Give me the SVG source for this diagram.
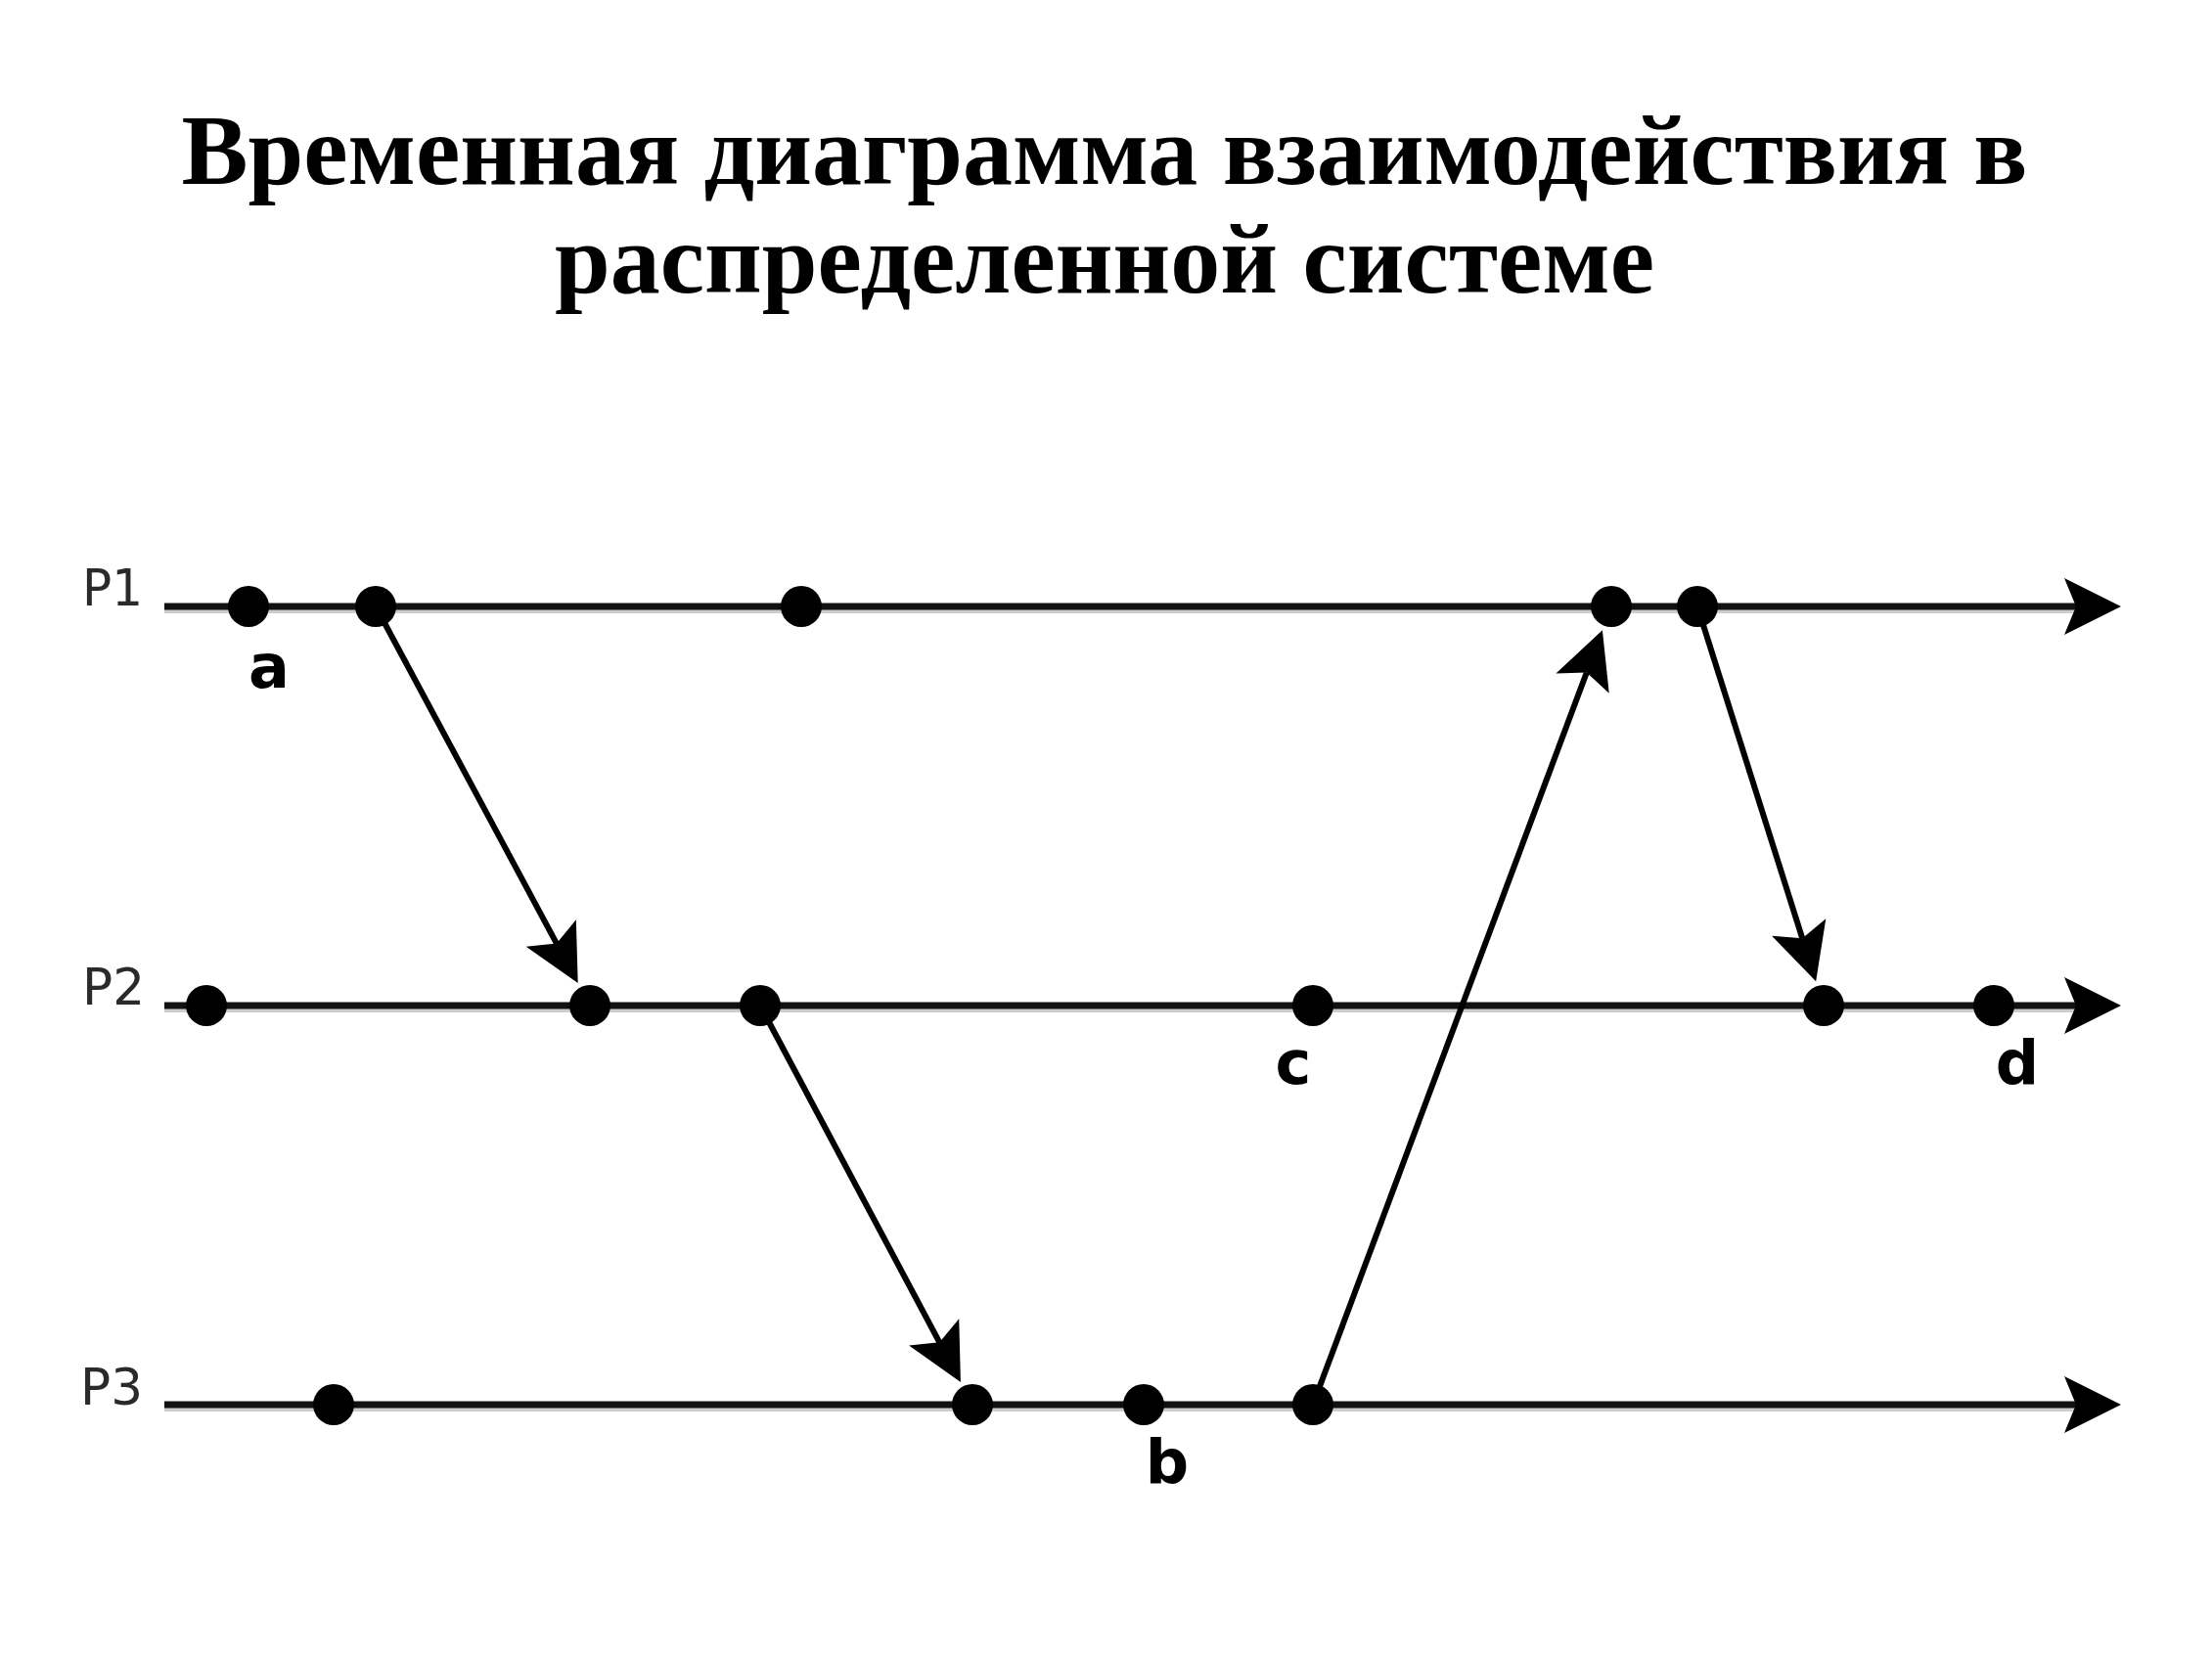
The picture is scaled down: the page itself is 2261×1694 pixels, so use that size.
<svg xmlns="http://www.w3.org/2000/svg" width="2261" height="1694" viewBox="0 0 2261 1694">
  <style>
    .title { font-family: "Liberation Serif", "Times New Roman", serif; font-weight: bold; font-size: 102px; fill: #000; }
    .proc { font-family: "DejaVu Sans", "Liberation Sans", sans-serif; font-size: 51px; fill: #2a2a2a; }
    .lbl { font-family: "DejaVu Sans", "Liberation Sans", sans-serif; font-weight: bold; font-size: 62px; fill: #000; text-anchor: middle; }
    .tl { stroke: #111; stroke-width: 7; fill: none; }
    .tls { stroke: #cccccc; stroke-width: 4; fill: none; }
    .msg { stroke: #000; stroke-width: 6; fill: none; marker-end: url(#ah); }
    .dot { fill: #000; }
  </style>
  <defs>
    <marker id="ah" markerUnits="userSpaceOnUse" viewBox="-15 -32 65 64" markerWidth="65" markerHeight="64" refX="0" refY="0" orient="auto" overflow="visible">
      <path d="M46,0 L-12,-29 L0,0 L-12,29 Z" fill="#000"/>
    </marker>
  </defs>
  <rect width="2261" height="1694" fill="#fff"/>

  <g id="title">
    <text class="title" x="1129" y="188" text-anchor="middle">Временная диаграмма взаимодействия в</text>
    <text class="title" x="1129" y="299" text-anchor="middle">распределенной системе</text>
  </g>

  <g id="timelines">
    <line class="tls" x1="168" y1="625" x2="2122" y2="625"/>
    <line class="tls" x1="168" y1="1033" x2="2122" y2="1033"/>
    <line class="tls" x1="168" y1="1441" x2="2122" y2="1441"/>
    <line class="tl" x1="168" y1="620" x2="2122" y2="620" marker-end="url(#ah)"/>
    <line class="tl" x1="168" y1="1028" x2="2122" y2="1028" marker-end="url(#ah)"/>
    <line class="tl" x1="168" y1="1436" x2="2122" y2="1436" marker-end="url(#ah)"/>
    <text class="proc" x="84" y="619" textLength="62" lengthAdjust="spacingAndGlyphs">P1</text>
    <text class="proc" x="84" y="1027" textLength="64" lengthAdjust="spacingAndGlyphs">P2</text>
    <text class="proc" x="82" y="1436" textLength="64" lengthAdjust="spacingAndGlyphs">P3</text>
  </g>

  <g id="connectors">
    <line class="msg" x1="384" y1="620" x2="568.95" y2="964.56"/>
    <line class="msg" x1="777" y1="1028" x2="960.31" y2="1372.37"/>
    <line class="msg" x1="1342" y1="1436" x2="1621.79" y2="687.44"/>
    <line class="msg" x1="1735" y1="620" x2="1842.29" y2="959.35"/>
  </g>

  <g id="p1-events">
    <g id="e-a"><circle class="dot" cx="254" cy="620" r="21"/><text class="lbl" x="275" y="703">a</text></g>
    <g id="e-p1-2"><circle class="dot" cx="384" cy="620" r="21"/></g>
    <g id="e-p1-3"><circle class="dot" cx="819" cy="620" r="21"/></g>
    <g id="e-p1-4"><circle class="dot" cx="1647" cy="620" r="21"/></g>
    <g id="e-p1-5"><circle class="dot" cx="1735" cy="620" r="21"/></g>
  </g>
  <g id="p2-events">
    <g id="e-p2-1"><circle class="dot" cx="211" cy="1028" r="21"/></g>
    <g id="e-p2-2"><circle class="dot" cx="603" cy="1028" r="21"/></g>
    <g id="e-p2-3"><circle class="dot" cx="777" cy="1028" r="21"/></g>
    <g id="e-c"><circle class="dot" cx="1342" cy="1028" r="21"/><text class="lbl" x="1322" y="1108">c</text></g>
    <g id="e-p2-5"><circle class="dot" cx="1864" cy="1028" r="21"/></g>
    <g id="e-d"><circle class="dot" cx="2038" cy="1028" r="21"/><text class="lbl" x="2062" y="1108">d</text></g>
  </g>
  <g id="p3-events">
    <g id="e-p3-1"><circle class="dot" cx="341" cy="1436" r="21"/></g>
    <g id="e-p3-2"><circle class="dot" cx="994" cy="1436" r="21"/></g>
    <g id="e-b"><circle class="dot" cx="1169" cy="1436" r="21"/><text class="lbl" x="1193" y="1516">b</text></g>
    <g id="e-p3-4"><circle class="dot" cx="1342" cy="1436" r="21"/></g>
  </g>
</svg>
